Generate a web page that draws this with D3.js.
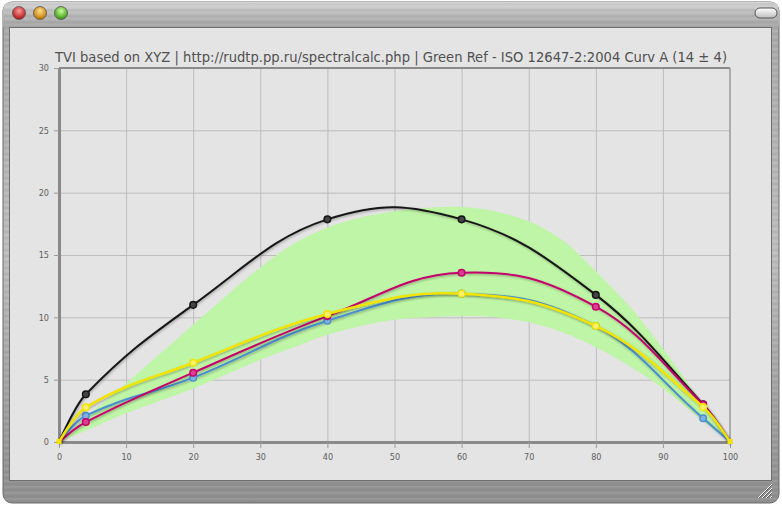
<!DOCTYPE html>
<html><head><meta charset="utf-8">
<script src="https://cdn.jsdelivr.net/npm/d3@7"></script>
<style>html,body{margin:0;padding:0;background:#fff;}svg{display:block;}</style>
</head><body>
<svg id="c" width="782" height="507"></svg>
<script>
const titleText = "TVI based on XYZ | http://rudtp.pp.ru/spectralcalc.php | Green Ref - ISO 12647-2:2004 Curv A (14 ± 4)";
const xTicks = [0,10,20,30,40,50,60,70,80,90,100];
const yTicks = [0,5,10,15,20,25,30];
const tones = [0,4,20,40,60,80,96,100];
const blackVals   = [0,3.83,11.0,17.86,17.86,11.8,3.02,0];
const blueVals    = [0,2.11,5.16,9.73,11.9,9.3,1.9,0];
const magentaVals = [0,1.6,5.56,10.1,13.58,10.85,3.0,0];
const yellowVals  = [0,2.78,6.36,10.27,11.9,9.3,2.8,0];
const bandTones = [0,4,10,20,30,35,40,45,50,55,60,65,70,75,80,85,90,96,100];
const bandLower = [0,0.9,2.3,4.3,6.6,7.6,8.6,9.3,9.8,10.0,10.1,10.0,9.6,8.8,7.6,6.1,4.3,1.7,0];
const bandUpper = [0,2.0,4.7,9.4,14.0,15.9,17.2,18.0,18.5,18.8,18.85,18.5,17.7,16.2,13.7,10.9,7.5,3.0,0];
const seriesNames = ["Black","Blue","Magenta","Yellow"];
const seriesColors = ["#151515","#4a8fd0","#c4006c","#f2e400"];
const seriesFill = ["#444","#7fb0e0","#d9408f","#f8f070"];

const svg = d3.select("#c");
const defs = svg.append("defs");
const g1 = defs.append("linearGradient").attr("id","tb").attr("x1",0).attr("y1",0).attr("x2",0).attr("y2",1);
g1.append("stop").attr("offset",0).attr("stop-color","#d6d6d6");
g1.append("stop").attr("offset",0.5).attr("stop-color","#b8b8b8");
g1.append("stop").attr("offset",1).attr("stop-color","#a4a4a4");
const g2 = defs.append("linearGradient").attr("id","bb").attr("x1",0).attr("y1",0).attr("x2",0).attr("y2",1);
g2.append("stop").attr("offset",0).attr("stop-color","#a8a8a8");
g2.append("stop").attr("offset",0.5).attr("stop-color","#bdbdbd");
g2.append("stop").attr("offset",1).attr("stop-color","#8e8e8e");
const f = defs.append("filter").attr("id","sh").attr("x","-5%").attr("y","-5%").attr("width","110%").attr("height","120%");
f.append("feDropShadow").attr("dx",0.8).attr("dy",1.2).attr("stdDeviation",0.8).attr("flood-color","#000").attr("flood-opacity",0.3);
function light(id, c1, c2){
  const rg = defs.append("radialGradient").attr("id",id).attr("cx","50%").attr("cy","35%").attr("r","60%");
  rg.append("stop").attr("offset",0).attr("stop-color",c1);
  rg.append("stop").attr("offset",1).attr("stop-color",c2);
}
light("lr","#ff9a9a","#b01818");
light("lo","#ffe08a","#c07800");
light("lg","#c8ff9a","#3a9a10");
const pg = defs.append("linearGradient").attr("id","pill").attr("x1",0).attr("y1",0).attr("x2",0).attr("y2",1);
pg.append("stop").attr("offset",0).attr("stop-color","#ffffff");
pg.append("stop").attr("offset",1).attr("stop-color","#bdbdbd");

svg.append("rect").attr("x",3).attr("y",2).attr("width",776).attr("height",501).attr("rx",9)
  .attr("fill","url(#bb)").attr("stroke","#6a6a6a").attr("stroke-width",1);
svg.append("path").attr("d","M3,27 L3,11 Q3,2 12,2 L770,2 Q779,2 779,11 L779,27 Z").attr("fill","url(#tb)");
const streakRows = d3.range(4, 500, 3);
svg.append("g").attr("opacity",0.12).selectAll("line").data(streakRows).join("line")
  .attr("x1",4).attr("x2",778).attr("y1",d=>d).attr("y2",d=>d)
  .attr("stroke",(d,i)=> i%2? "#fff":"#555").attr("stroke-width",1);
svg.append("rect").attr("x",9.5).attr("y",27.5).attr("width",762).attr("height",453)
  .attr("fill","#e4e4e4").attr("stroke","#6e6e6e").attr("stroke-width",1);
[["lr",19],["lo",40],["lg",61]].forEach(([id,cx])=>{
  svg.append("circle").attr("cx",cx).attr("cy",13).attr("r",6.5).attr("fill","url(#"+id+")").attr("stroke","#555").attr("stroke-width",0.8);
});
svg.append("rect").attr("x",755).attr("y",8).attr("width",22).attr("height",10).attr("rx",5)
  .attr("fill","url(#pill)").attr("stroke","#555").attr("stroke-width",1);
const grip = svg.append("g");
[0,4,8,12].forEach(o=>{
  grip.append("line").attr("x1",758+o).attr("y1",498).attr("x2",772).attr("y2",484+o).attr("stroke","#fff").attr("stroke-width",1);
  grip.append("line").attr("x1",759+o).attr("y1",498).attr("x2",772).attr("y2",485+o).attr("stroke","#555").attr("stroke-width",0.8);
});

const t = svg.append("text").attr("x",391).attr("y",62).attr("text-anchor","middle")
  .attr("font-family","'DejaVu Sans Condensed','DejaVu Sans',sans-serif").attr("font-size",14)
  .attr("fill","#505050").text(titleText);
const tl = t.node().getComputedTextLength();
if (Math.abs(tl-672) > 4) t.attr("textLength",672).attr("lengthAdjust","spacingAndGlyphs");

const x = d3.scaleLinear().domain([0,100]).range([59,730]);
const y = d3.scaleLinear().domain([0,30]).range([442,68]);
const grid = svg.append("g");
grid.selectAll("line.v").data(xTicks.slice(1,-1)).join("line").attr("class","v")
  .attr("x1",d=>x(d)+0.5).attr("x2",d=>x(d)+0.5).attr("y1",y(30)).attr("y2",y(0)).attr("stroke","#bcbcbc").attr("stroke-width",1);
grid.selectAll("line.h").data(yTicks.slice(1,-1)).join("line").attr("class","h")
  .attr("x1",x(0)).attr("x2",x(100)).attr("y1",d=>y(d)+0.5).attr("y2",d=>y(d)+0.5).attr("stroke","#bcbcbc").attr("stroke-width",1);

function splineSegs(pts){
  const n = pts.length, L = [], R = [];
  for (let i=0;i<n;i++){
    const p = pts[i];
    if (i===0 || i===n-1){ L.push([p[0],p[1]]); R.push([p[0],p[1]]); continue; }
    const a = pts[i-1], b = pts[i+1];
    let lx=(1.5*p[0]+a[0])/2.5, ly=(1.5*p[1]+a[1])/2.5;
    let rx=(1.5*p[0]+b[0])/2.5, ry=(1.5*p[1]+b[1])/2.5;
    const corr = ((ry-ly)*(rx-p[0]))/(rx-lx) + p[1] - ry;
    ly += corr; ry += corr;
    L.push([lx,ly]); R.push([rx,ry]);
  }
  return {L,R};
}
function splinePath(pts){
  const {L,R} = splineSegs(pts);
  let d = "M"+pts[0][0]+","+pts[0][1];
  for (let i=1;i<pts.length;i++){
    d += "C"+R[i-1][0]+","+R[i-1][1]+" "+L[i][0]+","+L[i][1]+" "+pts[i][0]+","+pts[i][1];
  }
  return d;
}

const band = bandTones.map((t,i)=>({t, lo:bandLower[i], hi:bandUpper[i]}));
svg.append("path").datum(band)
  .attr("d", d3.area().x(d=>x(d.t)).y0(d=>y(d.lo)).y1(d=>y(d.hi)).curve(d3.curveCatmullRom.alpha(0.5)))
  .attr("fill","#bff5a6");

svg.append("line").attr("x1",x(0)).attr("x2",x(100)).attr("y1",y(30)).attr("y2",y(30)).attr("stroke","#8a8a8a").attr("stroke-width",2);
svg.append("line").attr("x1",x(100)).attr("x2",x(100)).attr("y1",y(30)).attr("y2",y(0)).attr("stroke","#9a9a9a").attr("stroke-width",1.5);

const xAxis = svg.append("g").attr("transform",`translate(0,${y(0)})`)
  .call(d3.axisBottom(x).tickValues(xTicks).tickSize(6).tickPadding(6).tickSizeOuter(0));
const yAxis = svg.append("g").attr("transform",`translate(${x(0)},0)`)
  .call(d3.axisLeft(y).tickValues(yTicks).tickSize(5).tickPadding(5).tickSizeOuter(0));
[xAxis,yAxis].forEach(a=>{
  a.select(".domain").attr("stroke","#8a8a8a").attr("stroke-width",3);
  a.selectAll(".tick line").attr("stroke","#9a9a9a").attr("stroke-width",1);
  a.selectAll(".tick text").attr("fill","#606060").attr("font-size",9).attr("font-family","'DejaVu Sans Condensed','DejaVu Sans',sans-serif");
});

const allVals = [blackVals, blueVals, magentaVals, yellowVals];
allVals.forEach((vals,si)=>{
  const data = tones.map((t,i)=>({t, v: vals[i]}));
  const pts = data.map(d=>[x(d.t), y(d.v)]);
  const g = svg.append("g").attr("class","series").attr("data-name",seriesNames[si]);
  g.append("path").attr("d",splinePath(pts)).attr("fill","none")
    .attr("stroke",seriesColors[si]).attr("stroke-width", si===3?2.5:2).attr("filter","url(#sh)");
  g.selectAll("circle").data(data.slice(1,-1)).join("circle")
    .attr("cx",d=>x(d.t)).attr("cy",d=>y(d.v)).attr("r",3.3)
    .attr("fill",seriesFill[si]).attr("stroke",seriesColors[si]).attr("stroke-width",1.5);
});
svg.selectAll("rect.end").data([0,100]).join("rect").attr("class","end")
  .attr("x",d=>x(d)-2.5).attr("y",y(0)-3).attr("width",5).attr("height",5).attr("fill","#f2e400");
</script>
</body></html>
